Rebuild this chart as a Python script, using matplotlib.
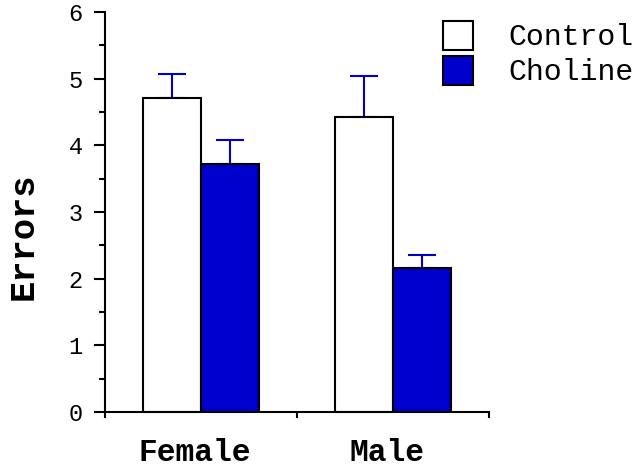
import matplotlib.pyplot as plt
import matplotlib.transforms as mtransforms
import numpy as np

# data
groups = ["Female", "Male"]
series = ["Control", "Choline"]
control = [4.71, 4.43]
control_err = [0.36, 0.61]
choline = [3.72, 2.16]
choline_err = [0.36, 0.20]
colors = ["white", "#0000CC"]

plt.rcParams['font.family'] = ['Liberation Mono', 'DejaVu Sans']

fig = plt.figure(figsize=(6.41, 4.69), dpi=100)
ax = fig.add_axes([105/641, 1-412/469, 384/641, 400/469])

x = np.arange(len(groups)) + 0.5
w = 0.3
vals = [control, choline]
errs = [control_err, choline_err]
for i in range(2):
    pos = x - w/2 + i*w
    ax.bar(pos, vals[i], w, color=colors[i], edgecolor="black", linewidth=1.5,
           label=series[i], zorder=2)
    ax.errorbar(pos, vals[i], yerr=[np.zeros(len(groups)), errs[i]], fmt="none",
                ecolor="#0000CC", elinewidth=1.5, capsize=10, capthick=1.5, zorder=1)

ax.set_xlim(0, 2)
ax.set_ylim(0, 6)
ax.spines['top'].set_visible(False)
ax.spines['right'].set_visible(False)
ax.spines['left'].set_linewidth(1.5)
ax.spines['bottom'].set_linewidth(1.5)

ax.set_yticks(np.arange(0, 7, 1))
ax.set_yticks(np.arange(0.5, 6, 1), minor=True)
ax.tick_params(axis='y', which='major', length=8, width=1.5, pad=8, labelsize=17)
ax.tick_params(axis='y', which='minor', length=4.5, width=1.5)

# x ticks marks at edges, labels at group centres
ax.set_xticks([0, 1, 2])
ax.set_xticklabels([])
ax.tick_params(axis='x', which='major', length=4, width=1.5)
ax.set_xticks(x, minor=True)
ax.set_xticklabels(groups, minor=True, fontsize=22.5, fontweight='bold')
ax.tick_params(axis='x', which='minor', length=0, pad=19)
shift = mtransforms.ScaledTranslation(-6/100, 0, fig.dpi_scale_trans)
for lab in ax.xaxis.get_minorticklabels():
    lab.set_transform(lab.get_transform() + shift)

ax.set_ylabel("Errors", fontsize=25.5, fontweight='bold')
ax.yaxis.set_label_coords(-0.17, 0.44)

ax.legend(loc='upper left', bbox_to_anchor=(443/641, 1-21/469), bbox_transform=fig.transFigure,
          frameon=False, fontsize=21.5, handlelength=1.0, handleheight=1.1,
          handletextpad=1.2, labelspacing=0.15, borderpad=0, borderaxespad=0)

fig.savefig("out.png", dpi=100)
